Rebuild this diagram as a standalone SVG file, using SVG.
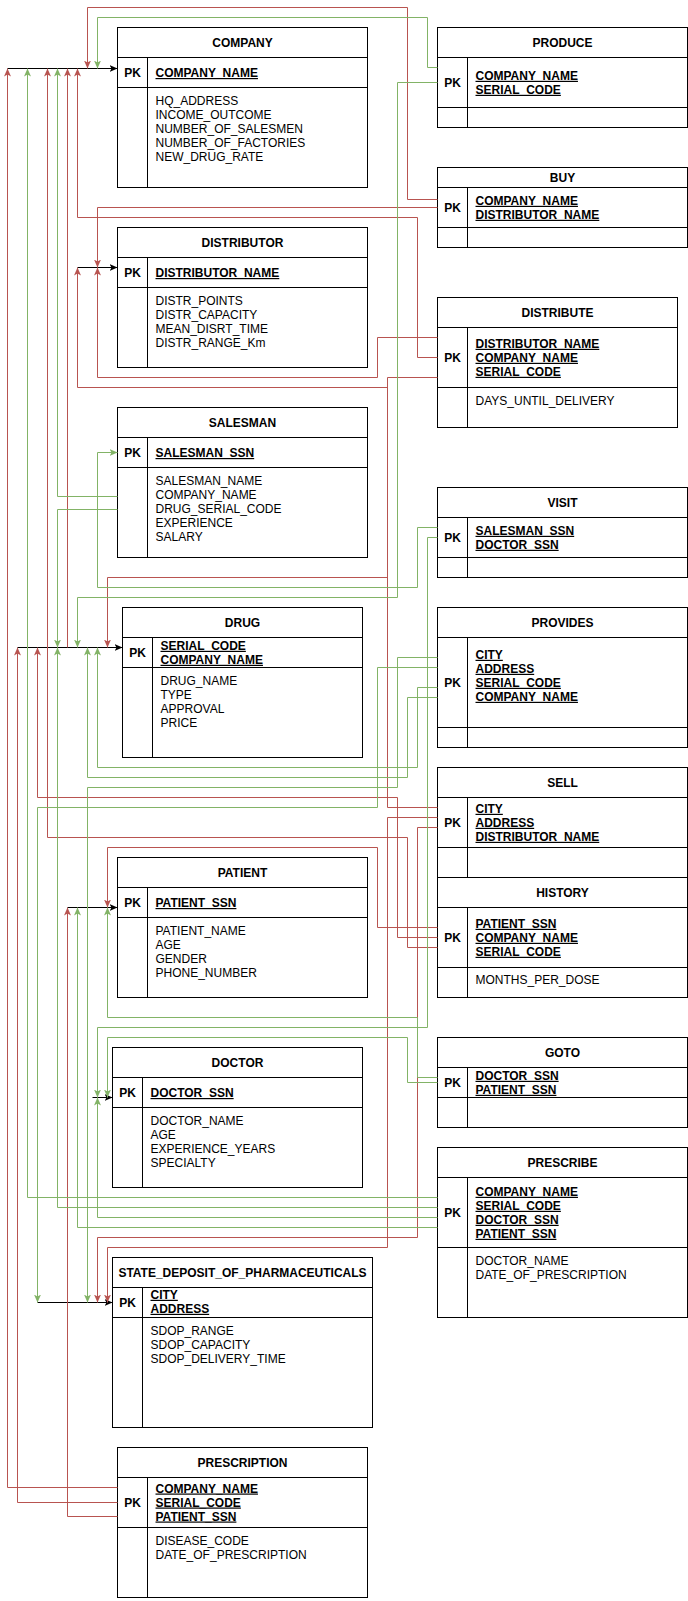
<svg xmlns="http://www.w3.org/2000/svg" width="688" height="1601" viewBox="0 0 688 1601">
<style>
.bx{fill:#fff;stroke:#000;stroke-width:1}
.ln{stroke:#000;stroke-width:1;fill:none}
text{font-family:"Liberation Sans",Arial,Helvetica,sans-serif;font-size:12px;fill:#000}
.t{text-anchor:middle;font-weight:bold}
.p{text-anchor:middle;font-weight:bold}
.u{text-decoration:underline;font-weight:bold}
.r{stroke:#b85450;stroke-width:1;fill:none;marker-end:url(#ar)}
.g{stroke:#82b366;stroke-width:1;fill:none;marker-end:url(#ag)}
.k{stroke:#000;stroke-width:1;fill:none;marker-end:url(#ak)}
</style>
<defs>
<marker id="ar" viewBox="0 0 8 8" refX="8" refY="4" markerWidth="8" markerHeight="8" markerUnits="userSpaceOnUse" orient="auto"><path d="M0,0.5 L8,4 L0,7.5 L2,4 Z" fill="#b85450"/></marker>
<marker id="ag" viewBox="0 0 8 8" refX="8" refY="4" markerWidth="8" markerHeight="8" markerUnits="userSpaceOnUse" orient="auto"><path d="M0,0.5 L8,4 L0,7.5 L2,4 Z" fill="#82b366"/></marker>
<marker id="ak" viewBox="0 0 8 8" refX="8" refY="4" markerWidth="8" markerHeight="8" markerUnits="userSpaceOnUse" orient="auto"><path d="M0,0.5 L8,4 L0,7.5 L2,4 Z" fill="#000"/></marker>
</defs>
<rect width="688" height="1601" fill="#fff"/>
<g transform="translate(0.5,0.5)">
<g id="company">
<rect class="bx" x="117" y="27" width="250" height="160"/>
<path class="ln" d="M117,57H367M117,87H367M147,57V187"/>
<text class="t" x="242" y="46.5">COMPANY</text>
<text class="p" x="132" y="76.5">PK</text>
<text class="u" x="155" y="76.5">COMPANY_NAME</text>
<text x="155" y="104">HQ_ADDRESS</text>
<text x="155" y="118">INCOME_OUTCOME</text>
<text x="155" y="132">NUMBER_OF_SALESMEN</text>
<text x="155" y="146">NUMBER_OF_FACTORIES</text>
<text x="155" y="160">NEW_DRUG_RATE</text>
</g>
<g id="distributor">
<rect class="bx" x="117" y="227" width="250" height="140"/>
<path class="ln" d="M117,257H367M117,287H367M147,257V367"/>
<text class="t" x="242" y="246.5">DISTRIBUTOR</text>
<text class="p" x="132" y="276.5">PK</text>
<text class="u" x="155" y="276.5">DISTRIBUTOR_NAME</text>
<text x="155" y="304">DISTR_POINTS</text>
<text x="155" y="318">DISTR_CAPACITY</text>
<text x="155" y="332">MEAN_DISRT_TIME</text>
<text x="155" y="346">DISTR_RANGE_Km</text>
</g>
<g id="salesman">
<rect class="bx" x="117" y="407" width="250" height="150"/>
<path class="ln" d="M117,437H367M117,467H367M147,437V557"/>
<text class="t" x="242" y="426.5">SALESMAN</text>
<text class="p" x="132" y="456.5">PK</text>
<text class="u" x="155" y="456.5">SALESMAN_SSN</text>
<text x="155" y="484">SALESMAN_NAME</text>
<text x="155" y="498">COMPANY_NAME</text>
<text x="155" y="512">DRUG_SERIAL_CODE</text>
<text x="155" y="526">EXPERIENCE</text>
<text x="155" y="540">SALARY</text>
</g>
<g id="drug">
<rect class="bx" x="122" y="607" width="240" height="150"/>
<path class="ln" d="M122,637H362M122,667H362M152,637V757"/>
<text class="t" x="242" y="626.5">DRUG</text>
<text class="p" x="137" y="656.5">PK</text>
<text class="u" x="160" y="649.3">SERIAL_CODE</text>
<text class="u" x="160" y="663.3">COMPANY_NAME</text>
<text x="160" y="684">DRUG_NAME</text>
<text x="160" y="698">TYPE</text>
<text x="160" y="712">APPROVAL</text>
<text x="160" y="726">PRICE</text>
</g>
<g id="patient">
<rect class="bx" x="117" y="857" width="250" height="140"/>
<path class="ln" d="M117,887H367M117,917H367M147,887V997"/>
<text class="t" x="242" y="876.5">PATIENT</text>
<text class="p" x="132" y="906.5">PK</text>
<text class="u" x="155" y="906.5">PATIENT_SSN</text>
<text x="155" y="934">PATIENT_NAME</text>
<text x="155" y="948">AGE</text>
<text x="155" y="962">GENDER</text>
<text x="155" y="976">PHONE_NUMBER</text>
</g>
<g id="doctor">
<rect class="bx" x="112" y="1047" width="250" height="140"/>
<path class="ln" d="M112,1077H362M112,1107H362M142,1077V1187"/>
<text class="t" x="237" y="1066.5">DOCTOR</text>
<text class="p" x="127" y="1096.5">PK</text>
<text class="u" x="150" y="1096.5">DOCTOR_SSN</text>
<text x="150" y="1124">DOCTOR_NAME</text>
<text x="150" y="1138">AGE</text>
<text x="150" y="1152">EXPERIENCE_YEARS</text>
<text x="150" y="1166">SPECIALTY</text>
</g>
<g id="state_deposit">
<rect class="bx" x="112" y="1257" width="260" height="170"/>
<path class="ln" d="M112,1287H372M112,1317H372M142,1287V1427"/>
<text class="t" x="242" y="1276.5">STATE_DEPOSIT_OF_PHARMACEUTICALS</text>
<text class="p" x="127" y="1306.3">PK</text>
<text class="u" x="150" y="1298.3">CITY</text>
<text class="u" x="150" y="1312.3">ADDRESS</text>
<text x="150" y="1334">SDOP_RANGE</text>
<text x="150" y="1348">SDOP_CAPACITY</text>
<text x="150" y="1362">SDOP_DELIVERY_TIME</text>
</g>
<g id="prescription">
<rect class="bx" x="117" y="1447" width="250" height="150"/>
<path class="ln" d="M117,1477H367M117,1527H367M147,1477V1597"/>
<text class="t" x="242" y="1466.5">PRESCRIPTION</text>
<text class="p" x="132" y="1506.3">PK</text>
<text class="u" x="155" y="1492">COMPANY_NAME</text>
<text class="u" x="155" y="1506">SERIAL_CODE</text>
<text class="u" x="155" y="1520">PATIENT_SSN</text>
<text x="155" y="1544">DISEASE_CODE</text>
<text x="155" y="1558">DATE_OF_PRESCRIPTION</text>
</g>
<g id="produce">
<rect class="bx" x="437" y="27" width="250" height="100"/>
<path class="ln" d="M437,57H687M437,107H687M467,57V127"/>
<text class="t" x="562" y="46.5">PRODUCE</text>
<text class="p" x="452" y="86.3">PK</text>
<text class="u" x="475" y="79.3">COMPANY_NAME</text>
<text class="u" x="475" y="93.3">SERIAL_CODE</text>
</g>
<g id="buy">
<rect class="bx" x="437" y="167" width="250" height="80"/>
<path class="ln" d="M437,187H687M437,227H687M467,187V247"/>
<text class="t" x="562" y="181.3">BUY</text>
<text class="p" x="452" y="211.3">PK</text>
<text class="u" x="475" y="204.3">COMPANY_NAME</text>
<text class="u" x="475" y="218.3">DISTRIBUTOR_NAME</text>
</g>
<g id="distribute">
<rect class="bx" x="437" y="297" width="240" height="130"/>
<path class="ln" d="M437,327H677M437,387H677M467,327V427"/>
<text class="t" x="557" y="316.5">DISTRIBUTE</text>
<text class="p" x="452" y="361.3">PK</text>
<text class="u" x="475" y="347.3">DISTRIBUTOR_NAME</text>
<text class="u" x="475" y="361.3">COMPANY_NAME</text>
<text class="u" x="475" y="375.3">SERIAL_CODE</text>
<text x="475" y="404">DAYS_UNTIL_DELIVERY</text>
</g>
<g id="visit">
<rect class="bx" x="437" y="487" width="250" height="90"/>
<path class="ln" d="M437,517H687M437,557H687M467,517V577"/>
<text class="t" x="562" y="506.5">VISIT</text>
<text class="p" x="452" y="541.3">PK</text>
<text class="u" x="475" y="534.3">SALESMAN_SSN</text>
<text class="u" x="475" y="548.3">DOCTOR_SSN</text>
</g>
<g id="provides">
<rect class="bx" x="437" y="607" width="250" height="140"/>
<path class="ln" d="M437,637H687M437,727H687M467,637V747"/>
<text class="t" x="562" y="626.5">PROVIDES</text>
<text class="p" x="452" y="686.3">PK</text>
<text class="u" x="475" y="658.3">CITY</text>
<text class="u" x="475" y="672.3">ADDRESS</text>
<text class="u" x="475" y="686.3">SERIAL_CODE</text>
<text class="u" x="475" y="700.3">COMPANY_NAME</text>
</g>
<g id="sell">
<rect class="bx" x="437" y="767" width="250" height="110"/>
<path class="ln" d="M437,797H687M437,847H687M467,797V877"/>
<text class="t" x="562" y="786.5">SELL</text>
<text class="p" x="452" y="826.3">PK</text>
<text class="u" x="475" y="812.3">CITY</text>
<text class="u" x="475" y="826.3">ADDRESS</text>
<text class="u" x="475" y="840.3">DISTRIBUTOR_NAME</text>
</g>
<g id="history">
<rect class="bx" x="437" y="877" width="250" height="120"/>
<path class="ln" d="M437,907H687M437,967H687M467,907V997"/>
<text class="t" x="562" y="896.5">HISTORY</text>
<text class="p" x="452" y="941.3">PK</text>
<text class="u" x="475" y="927.3">PATIENT_SSN</text>
<text class="u" x="475" y="941.3">COMPANY_NAME</text>
<text class="u" x="475" y="955.3">SERIAL_CODE</text>
<text x="475" y="983">MONTHS_PER_DOSE</text>
</g>
<g id="goto">
<rect class="bx" x="437" y="1037" width="250" height="90"/>
<path class="ln" d="M437,1067H687M437,1097H687M467,1067V1127"/>
<text class="t" x="562" y="1056.5">GOTO</text>
<text class="p" x="452" y="1086.3">PK</text>
<text class="u" x="475" y="1079.3">DOCTOR_SSN</text>
<text class="u" x="475" y="1093.3">PATIENT_SSN</text>
</g>
<g id="prescribe">
<rect class="bx" x="437" y="1147" width="250" height="170"/>
<path class="ln" d="M437,1177H687M437,1247H687M467,1177V1317"/>
<text class="t" x="562" y="1166.5">PRESCRIBE</text>
<text class="p" x="452" y="1216.3">PK</text>
<text class="u" x="475" y="1195.3">COMPANY_NAME</text>
<text class="u" x="475" y="1209.3">SERIAL_CODE</text>
<text class="u" x="475" y="1223.3">DOCTOR_SSN</text>
<text class="u" x="475" y="1237.3">PATIENT_SSN</text>
<text x="475" y="1264">DOCTOR_NAME</text>
<text x="475" y="1278">DATE_OF_PRESCRIPTION</text>
</g>
<g id="connectors">
<path class="k" d="M7,68H117"/>
<path class="k" d="M77,267H117"/>
<path class="k" d="M17,647H122"/>
<path class="k" d="M67,907H117"/>
<path class="k" d="M92,1097H112"/>
<path class="k" d="M37,1302H112"/>
<path class="r" d="M437,199H407V7H87V68"/>
<path class="r" d="M437,207H97V267"/>
<path class="r" d="M437,357H417V217H77V68"/>
<path class="r" d="M437,337H377V377H97V267"/>
<path class="r" d="M437,377H387V577H107V647"/>
<path class="r" d="M437,807H387V387H77V267"/>
<path class="r" d="M437,817H387V1247H107V1302"/>
<path class="r" d="M437,827H417V1237H97V1302"/>
<path class="r" d="M437,927H377V847H107V907"/>
<path class="r" d="M437,937H397V797H37V647"/>
<path class="r" d="M437,947H407V837H47V68"/>
<path class="r" d="M67,647V68"/>
<path class="r" d="M117,1487H7V68"/>
<path class="r" d="M117,1502H17V647"/>
<path class="r" d="M117,1516H67V907"/>
<path class="g" d="M437,67H427V17H97V68"/>
<path class="g" d="M437,82H397V597H77V647"/>
<path class="g" d="M117,496H57V68"/>
<path class="g" d="M117,509H57V647"/>
<path class="g" d="M437,527H417V587H97V452H117"/>
<path class="g" d="M437,537H427V1027H97V1097"/>
<path class="g" d="M437,657H397V787H87V1302"/>
<path class="g" d="M437,667H377V807H37V1302"/>
<path class="g" d="M437,687H417V767H97V647"/>
<path class="g" d="M437,697H407V777H87V647"/>
<path class="g" d="M437,1077H417V1017H107V907"/>
<path class="g" d="M437,1082H407V1037H107V1097"/>
<path class="g" d="M437,1197H27V68"/>
<path class="g" d="M437,1207H57V647"/>
<path class="g" d="M437,1217H97V1097"/>
<path class="g" d="M437,1227H77V907"/>
</g>
</g>
</svg>
